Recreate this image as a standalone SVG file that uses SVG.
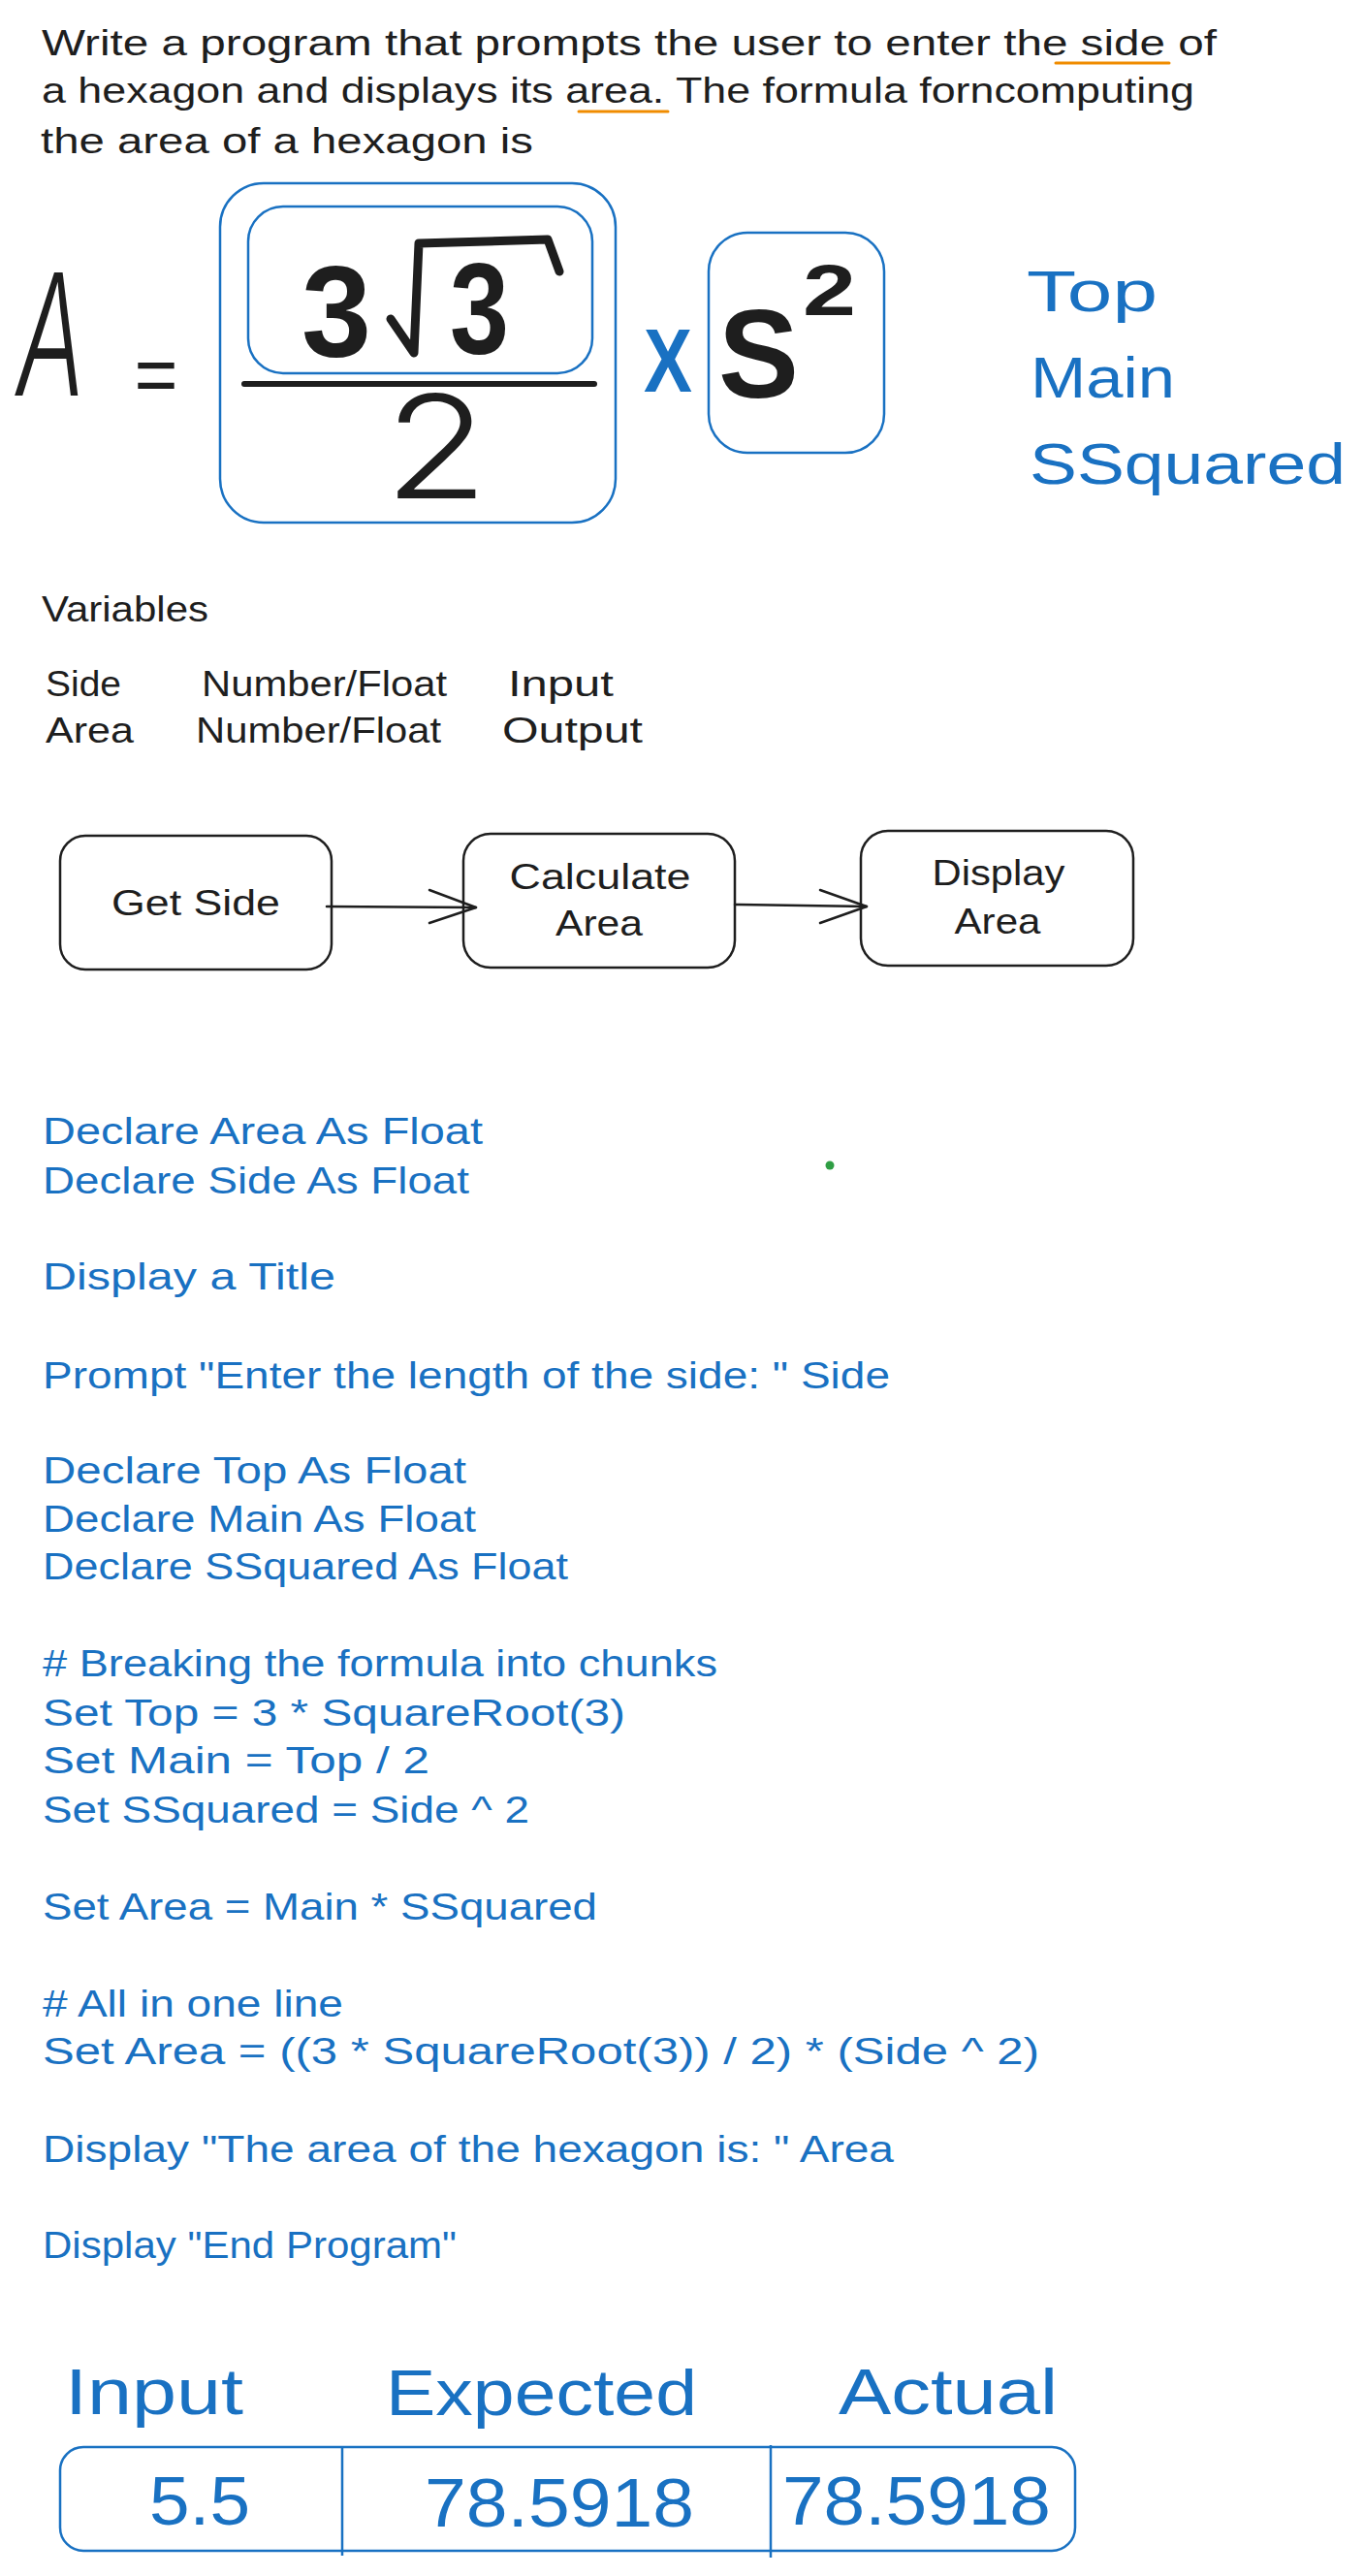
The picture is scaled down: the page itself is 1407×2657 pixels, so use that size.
<svg xmlns="http://www.w3.org/2000/svg" width="1407" height="2657" viewBox="0 0 1407 2657">
<style>
  text { font-family: "Liberation Sans", "Noto Sans", sans-serif; }
  .ink { fill: #1e1e1e; }
  .blue { fill: #1971c2; }
  .t36 { font-size: 36px; }
  .t38 { font-size: 38px; }
  .t60 { font-size: 60px; }
  .t66 { font-size: 66px; }
  .t70 { font-size: 70px; }
  .box { fill: none; stroke: #1e1e1e; stroke-width: 2.5; }
  .bbox { fill: none; stroke: #1971c2; stroke-width: 2.5; }
  .mid { text-anchor: middle; }
  .conn { fill: none; stroke: #1e1e1e; stroke-width: 2.5; stroke-linecap: round; stroke-linejoin: round; }
  .uline { stroke: #f08c00; stroke-width: 3; stroke-linecap: round; }
  .thin { font-family: "Inter", "Lato", "Liberation Sans", sans-serif; font-weight: 300; }
  .stroke9 { fill: none; stroke: #1e1e1e; stroke-width: 9; stroke-linecap: round; stroke-linejoin: round; }
</style>
<rect width="1407" height="2657" fill="#ffffff"/>

<g id="problem">
  <text class="ink t36" x="43" y="57" textLength="1212" lengthAdjust="spacingAndGlyphs">Write a program that prompts the user to enter the side of</text>
  <text class="ink t36" x="43" y="106" textLength="1189" lengthAdjust="spacingAndGlyphs">a hexagon and displays its area. The formula forncomputing</text>
  <text class="ink t36" x="42" y="158" textLength="508" lengthAdjust="spacingAndGlyphs">the area of a hexagon is</text>
  <line class="uline" x1="1089" y1="65" x2="1206" y2="65"/>
  <line class="uline" x1="597" y1="115" x2="689" y2="115"/>
</g>

<g id="formula">
  <text class="ink thin" x="17" y="408" font-size="175" font-style="italic" textLength="71" lengthAdjust="spacingAndGlyphs">A</text>
  <text class="ink thin" x="131" y="416" font-size="100" textLength="60" lengthAdjust="spacingAndGlyphs">=</text>
  <rect class="bbox" x="227" y="189" width="408" height="350" rx="45"/>
  <rect class="bbox" x="256" y="213" width="355" height="172" rx="36"/>
  <text class="ink" x="311" y="368" font-size="134" font-weight="bold" textLength="72" lengthAdjust="spacingAndGlyphs">3</text>
  <polyline class="stroke9" points="403,329 427,364 432,251 565,247 577,280"/>
  <text class="ink" x="464" y="365" font-size="134" font-weight="bold" textLength="61" lengthAdjust="spacingAndGlyphs">3</text>
  <line x1="252" y1="396" x2="613" y2="396" stroke="#1e1e1e" stroke-width="6" stroke-linecap="round"/>
  <text class="ink thin" x="396" y="514" font-size="148" textLength="108" lengthAdjust="spacingAndGlyphs">2</text>
  <text class="blue" x="664" y="404" font-size="92" font-weight="bold" textLength="50" lengthAdjust="spacingAndGlyphs">X</text>
  <rect class="bbox" x="731" y="240" width="181" height="227" rx="40"/>
  <text class="ink" x="741" y="410" font-size="130" font-weight="bold" textLength="83" lengthAdjust="spacingAndGlyphs">S</text>
  <text class="ink" x="828" y="325" font-size="74" font-weight="bold" textLength="55" lengthAdjust="spacingAndGlyphs">2</text>
</g>

<g id="legend">
  <text class="blue t60" x="1059" y="321" textLength="135" lengthAdjust="spacingAndGlyphs">Top</text>
  <text class="blue t60" x="1063" y="410" textLength="149" lengthAdjust="spacingAndGlyphs">Main</text>
  <text class="blue t60" x="1062" y="499" textLength="326" lengthAdjust="spacingAndGlyphs">SSquared</text>
</g>

<g id="variables">
  <text class="ink t36" x="43" y="641" textLength="172" lengthAdjust="spacingAndGlyphs">Variables</text>
  <text class="ink t36" x="47" y="718" textLength="78" lengthAdjust="spacingAndGlyphs">Side</text>
  <text class="ink t36" x="208" y="718" textLength="253" lengthAdjust="spacingAndGlyphs">Number/Float</text>
  <text class="ink t36" x="524" y="718" textLength="109" lengthAdjust="spacingAndGlyphs">Input</text>
  <text class="ink t36" x="47" y="766" textLength="91" lengthAdjust="spacingAndGlyphs">Area</text>
  <text class="ink t36" x="202" y="766" textLength="253" lengthAdjust="spacingAndGlyphs">Number/Float</text>
  <text class="ink t36" x="518" y="766" textLength="145" lengthAdjust="spacingAndGlyphs">Output</text>
</g>

<g id="node-get-side">
  <rect class="box" x="62" y="862" width="280" height="138" rx="26"/>
  <text class="ink t36 mid" x="202" y="944" textLength="174" lengthAdjust="spacingAndGlyphs">Get Side</text>
</g>
<g id="node-calculate-area">
  <rect class="box" x="478" y="860" width="280" height="138" rx="28"/>
  <text class="ink t36 mid" x="619" y="917" textLength="187" lengthAdjust="spacingAndGlyphs">Calculate</text>
  <text class="ink t36 mid" x="618" y="965" textLength="90" lengthAdjust="spacingAndGlyphs">Area</text>
</g>
<g id="node-display-area">
  <rect class="box" x="888" y="857" width="281" height="139" rx="28"/>
  <text class="ink t36 mid" x="1030" y="913" textLength="137" lengthAdjust="spacingAndGlyphs">Display</text>
  <text class="ink t36 mid" x="1029" y="963" textLength="89" lengthAdjust="spacingAndGlyphs">Area</text>
</g>

<g id="connectors">
  <line class="conn" x1="337" y1="935" x2="491" y2="936"/>
  <polyline class="conn" points="443,918 491,936 443,952"/>
  <line class="conn" x1="758" y1="933" x2="894" y2="935"/>
  <polyline class="conn" points="846,918 894,935 846,952"/>
</g>

<circle id="dot" cx="856" cy="1202" r="4.5" fill="#2f9e44"/>

<g id="pseudocode">
  <text class="blue t38" x="44" y="1180" textLength="454" lengthAdjust="spacingAndGlyphs">Declare Area As Float</text>
  <text class="blue t38" x="44" y="1231" textLength="440" lengthAdjust="spacingAndGlyphs">Declare Side As Float</text>
  <text class="blue t38" x="44" y="1330" textLength="302" lengthAdjust="spacingAndGlyphs">Display a Title</text>
  <text class="blue t38" x="44" y="1432" textLength="874" lengthAdjust="spacingAndGlyphs">Prompt "Enter the length of the side: " Side</text>
  <text class="blue t38" x="44" y="1530" textLength="437" lengthAdjust="spacingAndGlyphs">Declare Top As Float</text>
  <text class="blue t38" x="44" y="1580" textLength="447" lengthAdjust="spacingAndGlyphs">Declare Main As Float</text>
  <text class="blue t38" x="44" y="1629" textLength="542" lengthAdjust="spacingAndGlyphs">Declare SSquared As Float</text>
  <text class="blue t38" x="44" y="1729" textLength="696" lengthAdjust="spacingAndGlyphs"># Breaking the formula into chunks</text>
  <text class="blue t38" x="44" y="1780" textLength="601" lengthAdjust="spacingAndGlyphs">Set Top = 3 * SquareRoot(3)</text>
  <text class="blue t38" x="44" y="1829" textLength="399" lengthAdjust="spacingAndGlyphs">Set Main = Top / 2</text>
  <text class="blue t38" x="44" y="1880" textLength="502" lengthAdjust="spacingAndGlyphs">Set SSquared = Side ^ 2</text>
  <text class="blue t38" x="44" y="1980" textLength="572" lengthAdjust="spacingAndGlyphs">Set Area = Main * SSquared</text>
  <text class="blue t38" x="44" y="2080" textLength="310" lengthAdjust="spacingAndGlyphs"># All in one line</text>
  <text class="blue t38" x="44" y="2129" textLength="1028" lengthAdjust="spacingAndGlyphs">Set Area = ((3 * SquareRoot(3)) / 2) * (Side ^ 2)</text>
  <text class="blue t38" x="44" y="2230" textLength="878" lengthAdjust="spacingAndGlyphs">Display "The area of the hexagon is: " Area</text>
  <text class="blue t38" x="44" y="2329" textLength="427" lengthAdjust="spacingAndGlyphs">Display "End Program"</text>
</g>

<g id="test-table">
  <text class="blue t66" x="67" y="2490" textLength="184" lengthAdjust="spacingAndGlyphs">Input</text>
  <text class="blue t66" x="398" y="2491" textLength="321" lengthAdjust="spacingAndGlyphs">Expected</text>
  <text class="blue t66" x="865" y="2490" textLength="226" lengthAdjust="spacingAndGlyphs">Actual</text>
  <rect class="bbox" x="62" y="2524" width="1047" height="107" rx="24"/>
  <line x1="353" y1="2524" x2="353" y2="2636" stroke="#1971c2" stroke-width="2.5"/>
  <line x1="795" y1="2522" x2="795" y2="2638" stroke="#1971c2" stroke-width="2.5"/>
  <text class="blue t70" x="154" y="2604" textLength="104" lengthAdjust="spacingAndGlyphs">5.5</text>
  <text class="blue t70" x="438" y="2606" textLength="278" lengthAdjust="spacingAndGlyphs">78.5918</text>
  <text class="blue t70" x="807" y="2604" textLength="277" lengthAdjust="spacingAndGlyphs">78.5918</text>
</g>
</svg>
